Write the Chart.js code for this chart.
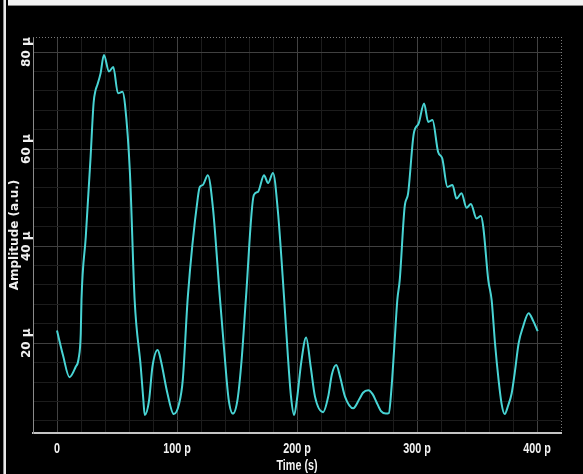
<!DOCTYPE html>
<html>
<head>
<meta charset="utf-8">
<script src="https://cdn.jsdelivr.net/npm/chart.js@4.4.0/dist/chart.umd.min.js"></script>
<style>
  html, body { margin: 0; padding: 0; background: #000; }
  #wrap { position: relative; width: 583px; height: 474px; overflow: hidden; background: #000; }
  #c { position: absolute; left: 0; top: 0; }
  #edgeL { position: absolute; left: 3px; top: 0; width: 3px; height: 474px; background: #e8e8e8; border-left: 1px solid #8a8a8a; box-sizing: border-box; }
  #edgeT { position: absolute; left: 8px; top: 0; width: 575px; height: 6px; background: #f2f2f2; border-bottom: 1px solid #8a8a8a; box-sizing: border-box; }
</style>
</head>
<body>
<div id="wrap">
  <canvas id="c" width="583" height="474"></canvas>
  <div id="edgeL"></div>
  <div id="edgeT"></div>
</div>
<script>
// Time axis samples, in picoseconds
const timePs = [
  0, 5, 10.4, 15.5, 18, 19.8, 20.4, 24, 28, 30.5, 32.2, 33.6, 36.3, 39.1, 43.3, 46.9,
  50.8, 54.5, 56.7, 60.8, 64.7, 69.8, 72, 73.1, 76.7, 79.5, 83.9, 86.5, 92, 97.3,
  101.8, 104.8, 109, 117.4, 119, 121.5, 125.7, 129.9, 135.7, 139.5, 143, 146.6, 150.5,
  154, 157.5, 164, 167.5, 172.5, 175.9, 180, 184, 189.2, 192.5, 195, 197.6, 200,
  203.5, 207.6, 211.5, 215, 221.8, 226, 229, 232.7, 236, 240, 246.9, 252, 255, 259.4,
  263, 266, 270, 274, 276.5, 278.6, 281, 283.6, 285.6, 289.7, 292.6, 297.3, 301.4,
  305.9, 309.3, 312.9, 317.6, 321, 325.4, 329.6, 332.9, 337.1, 341.3, 344.9, 349.6,
  353.2, 355.2, 359.4, 362.2, 365, 368, 370.5, 373, 376, 378.9, 381.5, 384.7, 388.5,
  393, 397, 400.6
];

// Amplitude samples, in micro-units (a.u.)
const amplitudeMicro = [
  22.6, 17.5, 13.0, 15.1, 16.8, 22, 28.9, 42, 58.4, 69.5, 72.2, 73.2, 75.6, 79.4, 76, 76.9,
  71.5, 71.8, 69.1, 55, 28.9, 15.1, 8.2, 5.2, 8.2, 15.1, 18.6, 16.5, 9.7, 5.4,
  7.6, 12.4, 29.5, 50.1, 52.2, 52.6, 54.6, 48, 29.5, 18, 8.5, 5.5, 8.5,
  17, 29.5, 50.5, 51.2, 54.6, 53.0, 55.1, 47.4, 29.5, 17, 9, 5.2, 8.5,
  16, 21.2, 15, 9, 5.8, 9, 13.5, 15.5, 13, 9, 6.6, 8.5, 9.8, 10.3,
  9.5, 8, 6, 5.5, 5.6, 10.3, 19, 28.9, 33, 48.1, 50.9, 63.2, 65.3,
  69.4, 65.6, 66, 59.4, 58.1, 52.2, 52.6, 49.8, 50.9, 47.9, 48.7, 45.7,
  46.2, 44, 33, 28.9, 20, 12.4, 7.5, 5.4, 7.2, 9.7, 14, 20, 23.5,
  26.2, 24.5, 22.5
];

// Labelled ticks
const xTickValues = [0, 100, 200, 300, 400];
const xTickLabels = ['0', '100 p', '200 p', '300 p', '400 p'];
const yTickValues = [20, 40, 60, 80];
const yTickLabels = ['20 µ', '40 µ', '60 µ', '80 µ'];
const xTitle = 'Time (s)';

const X_MIN = -20, X_MAX = 420, X_STEP = 20;
const Y_MIN = 1.5, Y_MAX = 83.1, Y_STEP = 4;

const sansBold = "bold 15px 'Liberation Sans', Arial, sans-serif";
const dejaBold = "'DejaVu Sans', sans-serif";
const NARROW = 0.72; // horizontal squeeze for the condensed time-axis lettering

function stepTicks(from, to, step) {
  const out = [];
  for (let v = from; v <= to + 1e-9; v += step) out.push({ value: +v.toFixed(6) });
  return out;
}

function narrowText(ctx, text, x, y) {
  ctx.save();
  ctx.translate(x, y);
  ctx.scale(NARROW, 1);
  ctx.fillText(text, 0, 0);
  ctx.restore();
}

// Black backdrop behind the plot
const backdrop = {
  id: 'backdrop',
  beforeDraw(chart) {
    const { ctx, width, height } = chart;
    ctx.save();
    ctx.fillStyle = '#000';
    ctx.fillRect(0, 0, width, height);
    ctx.restore();
  }
};

// Rotated amplitude labels, condensed time labels and the dotted top/right frame
const frameAndLabels = {
  id: 'frameAndLabels',
  afterDraw(chart) {
    const { ctx, chartArea: a } = chart;
    const xs = chart.scales.x;
    const ys = chart.scales.y;
    ctx.save();
    ctx.strokeStyle = '#7a7a7a';
    ctx.lineWidth = 1;
    ctx.setLineDash([1, 2]);
    ctx.beginPath();
    ctx.moveTo(a.left, a.top + 0.5);
    ctx.lineTo(a.right, a.top + 0.5);
    ctx.moveTo(a.right + 0.5, a.top);
    ctx.lineTo(a.right + 0.5, a.bottom);
    ctx.stroke();
    ctx.setLineDash([]);

    ctx.fillStyle = '#f0f0f0';
    ctx.font = 'bold 12px ' + dejaBold;
    ctx.textAlign = 'center';
    ctx.textBaseline = 'middle';
    yTickValues.forEach((v, i) => {
      const py = ys.getPixelForValue(v);
      ctx.save();
      ctx.translate(26.5, py);
      ctx.rotate(-Math.PI / 2);
      ctx.fillText(yTickLabels[i], 0, 0);
      ctx.restore();
    });

    ctx.font = sansBold;
    ctx.fillStyle = '#f2f2f2';
    xTickValues.forEach((v, i) => {
      narrowText(ctx, xTickLabels[i], xs.getPixelForValue(v), a.bottom + 16);
    });
    narrowText(ctx, xTitle, (a.left + a.right) / 2, a.bottom + 33);
    ctx.restore();
  }
};

new Chart(document.getElementById('c'), {
  type: 'line',
  data: {
    datasets: [{
      data: timePs.map((t, i) => ({ x: t, y: amplitudeMicro[i] })),
      borderColor: '#48d4d4',
      borderWidth: 2,
      pointRadius: 0,
      fill: false,
      cubicInterpolationMode: 'monotone'
    }]
  },
  options: {
    responsive: false,
    animation: false,
    devicePixelRatio: 1,
    layout: { padding: { top: 37, right: 22, left: 0, bottom: 0 } },
    plugins: { legend: { display: false }, tooltip: { enabled: false } },
    scales: {
      x: {
        type: 'linear',
        min: X_MIN,
        max: X_MAX,
        afterBuildTicks: s => { s.ticks = stepTicks(0, 400, X_STEP); },
        afterFit: s => { s.height = 41; },
        grid: {
          color: c => (xTickValues.includes(c.tick.value) ? '#424242' : '#1c1c1c'),
          lineWidth: 1,
          drawTicks: false
        },
        border: { display: true, color: '#c4c4c4', width: 2 },
        ticks: { display: false }
      },
      y: {
        type: 'linear',
        min: Y_MIN,
        max: Y_MAX,
        afterBuildTicks: s => { s.ticks = stepTicks(4, 80, Y_STEP); },
        afterFit: s => { s.width = 33; },
        grid: {
          color: c => (yTickValues.includes(c.tick.value) ? '#404040' : '#1c1c1c'),
          lineWidth: 1,
          drawTicks: false
        },
        border: { display: true, color: '#8a8a8a', width: 1 },
        ticks: { display: false },
        title: {
          display: true,
          text: 'Amplitude (a.u.)',
          color: '#f0f0f0',
          font: { family: dejaBold, size: 12, weight: 'bold' },
          padding: { top: 8, bottom: 0 }
        }
      }
    }
  },
  plugins: [backdrop, frameAndLabels]
});
</script>
</body>
</html>
